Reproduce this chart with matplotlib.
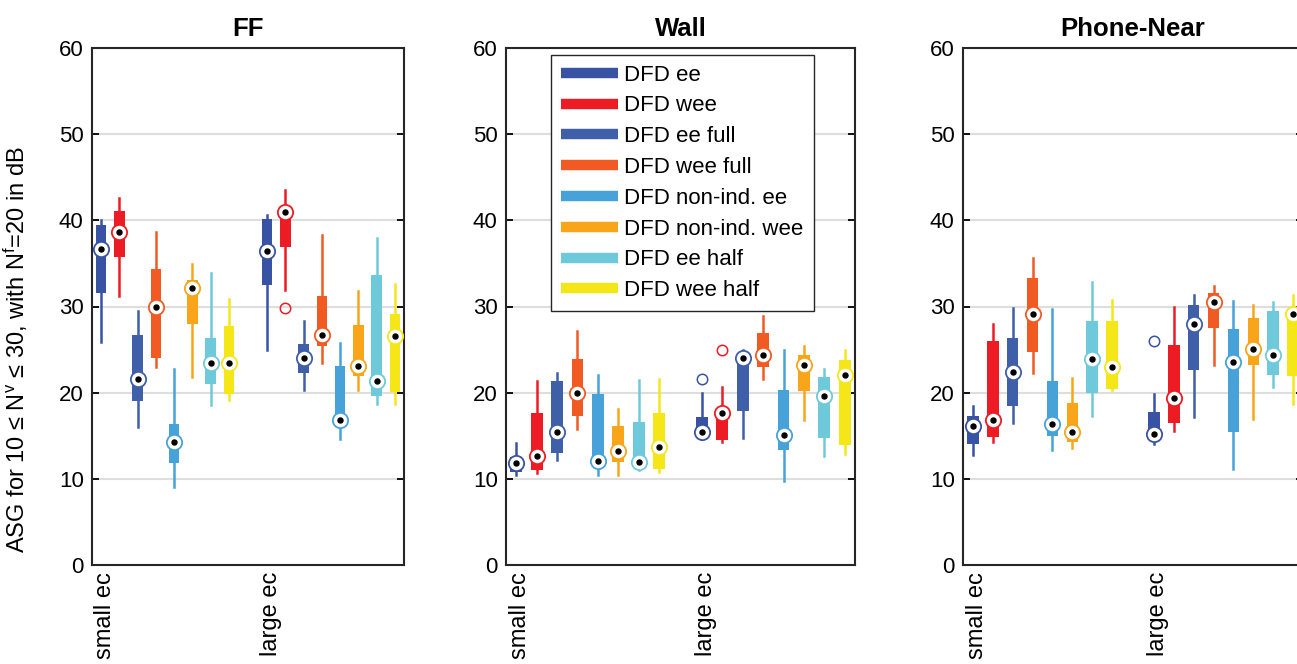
import matplotlib.pyplot as plt
from matplotlib.lines import Line2D

plt.rcParams['font.family'] = ['Liberation Sans', 'DejaVu Sans']
plt.rcParams['mathtext.fontset'] = 'custom'
plt.rcParams['mathtext.rm'] = 'Liberation Sans'
plt.rcParams['mathtext.it'] = 'Liberation Sans:italic'

# series / groups
series = ['DFD ee', 'DFD wee', 'DFD ee full', 'DFD wee full',
          'DFD non-ind. ee', 'DFD non-ind. wee', 'DFD ee half', 'DFD wee half']
colors = ['#3953a4', '#ed1c24', '#3f5fa9', '#f15a22',
          '#47a2d9', '#f9a51a', '#6ecadb', '#f5e717']
groups = ['small ec', 'large ec']
panels = ['FF', 'Wall', 'Phone-Near']

# 16 boxes per panel: first 8 = small ec, last 8 = large ec
ff_med = [36.7, 38.7, 21.6, 29.9, 14.3, 32.1, 23.4, 23.4, 36.4, 41.0, 24.0, 26.7, 16.8, 23.1, 21.4, 26.6]
ff_q1 = [31.6, 35.7, 19.0, 24.0, 11.8, 28.0, 21.0, 19.9, 32.5, 36.9, 22.3, 25.4, 16.6, 21.9, 19.6, 20.1]
ff_q3 = [39.5, 41.1, 26.7, 34.4, 16.4, 33.1, 26.4, 27.7, 40.2, 41.2, 25.6, 31.2, 23.1, 27.8, 33.7, 29.1]
ff_lo = [25.9, 31.2, 16.0, 23.0, 9.0, 21.8, 18.6, 19.2, 24.9, 31.9, 20.3, 23.4, 14.6, 20.3, 18.7, 18.7]
ff_hi = [40.0, 42.6, 29.5, 38.7, 22.7, 34.9, 33.9, 30.9, 40.6, 43.5, 28.3, 38.3, 25.8, 31.8, 38.0, 32.6]
ff_out = {9: [29.8]}

wall_med = [11.8, 12.7, 15.4, 20.0, 12.1, 13.2, 11.9, 13.7, 15.4, 17.6, 24.0, 24.4, 15.1, 23.2, 19.6, 22.0]
wall_q1 = [10.8, 11.0, 13.0, 17.3, 11.4, 12.0, 11.2, 11.1, 15.3, 14.5, 17.9, 23.0, 13.4, 20.2, 14.7, 13.9]
wall_q3 = [12.5, 17.6, 21.4, 23.9, 19.8, 16.1, 16.6, 17.6, 17.2, 17.8, 24.2, 26.9, 20.3, 24.4, 21.8, 23.8]
wall_lo = [10.5, 10.7, 12.2, 15.8, 10.5, 10.4, 11.0, 10.8, 15.2, 14.3, 14.7, 21.6, 9.7, 16.8, 12.7, 12.9]
wall_hi = [14.2, 21.4, 22.3, 27.2, 22.0, 18.1, 21.5, 21.6, 20.0, 20.6, 25.0, 28.9, 25.0, 25.4, 22.8, 25.0]
wall_out = {8: [21.6], 9: [25.0]}

phone_med = [16.1, 16.8, 22.4, 29.1, 16.4, 15.4, 23.9, 23.0, 15.2, 19.4, 28.0, 30.5, 23.6, 25.1, 24.4, 29.1]
phone_q1 = [14.0, 14.9, 18.5, 24.7, 15.0, 14.3, 20.0, 20.4, 15.1, 16.5, 22.6, 27.5, 15.4, 23.2, 22.1, 21.9]
phone_q3 = [17.3, 26.0, 26.3, 33.3, 21.4, 18.8, 28.3, 28.3, 17.7, 25.5, 30.2, 31.6, 27.4, 28.7, 29.5, 29.5]
phone_lo = [12.8, 14.3, 16.5, 22.3, 13.3, 13.6, 17.3, 20.3, 14.1, 15.5, 17.2, 23.2, 11.1, 16.9, 20.7, 18.7]
phone_hi = [18.5, 28.0, 29.8, 35.6, 29.7, 21.7, 32.9, 30.8, 19.9, 30.0, 31.3, 32.4, 30.6, 30.2, 30.5, 31.3]
phone_out = {8: [26.0]}

data = [
    (ff_med, ff_q1, ff_q3, ff_lo, ff_hi, ff_out),
    (wall_med, wall_q1, wall_q3, wall_lo, wall_hi, wall_out),
    (phone_med, phone_q1, phone_q3, phone_lo, phone_hi, phone_out),
]

# box positions: two groups of 8 with a gap
positions = list(range(1, 9)) + [x + 9.1 for x in range(1, 9)]
box_colors = colors + colors

fig = plt.figure(figsize=(12.97, 6.64), dpi=100)
W, H = 1297, 664
# axes rectangles in pixels (left, right), top=48, bottom=565
rects = [(92, 404), (506, 855), (963, 1303)]
top_px, bot_px = 48, 565

for k, (name, (med, q1, q3, lo, hi, out)) in enumerate(zip(panels, data)):
    l, r = rects[k]
    ax = fig.add_axes([l / W, (H - bot_px) / H, (r - l) / W, (bot_px - top_px) / H])

    stats = []
    for i in range(16):
        stats.append(dict(med=med[i], q1=q1[i], q3=q3[i], whislo=lo[i], whishi=hi[i],
                          fliers=out.get(i, [])))
    bp = ax.bxp(stats, positions=positions, widths=0.58, patch_artist=True,
                showcaps=False, manage_ticks=False,
                medianprops=dict(visible=False),
                flierprops=dict(marker='o', markerfacecolor='none', markersize=7.5,
                                markeredgewidth=1.1))
    for i in range(16):
        c = box_colors[i]
        bp['boxes'][i].set_facecolor(c)
        bp['boxes'][i].set_edgecolor(c)
        bp['boxes'][i].set_linewidth(0)
        bp['boxes'][i].set_zorder(3)
        for w in bp['whiskers'][2 * i:2 * i + 2]:
            w.set_color(c)
            w.set_linewidth(1.8)
            w.set_zorder(2.5)
        bp['fliers'][i].set_markeredgecolor(c)
        # median: white circle with coloured rim and black dot
        ax.plot(positions[i], med[i], 'o', markersize=11, markerfacecolor='white',
                markeredgecolor=c, markeredgewidth=1.3, zorder=4)
        ax.plot(positions[i], med[i], 'o', markersize=3.6, color='black', zorder=5)

    ax.set_xlim(0.5, 17.6)
    ax.set_ylim(0, 60)
    ax.set_yticks(range(0, 61, 10))
    ax.yaxis.grid(True, color='#dedede', linewidth=1.5)
    ax.set_axisbelow(True)
    ax.set_xticks([positions[0] + 0.2, positions[8] + 0.2])
    ax.set_xticklabels(groups, rotation=90, va='top', ha='center')
    ax.tick_params(axis='x', length=0, pad=5, labelsize=17)
    ax.tick_params(axis='y', direction='in', length=5, width=1.3, right=True,
                   labelsize=16, pad=6)
    for s in ax.spines.values():
        s.set_linewidth(1.5)
        s.set_color('#262626')
    ax.set_title(name, fontsize=18.5, fontweight='bold', pad=9)

    if k == 0:
        ax.set_ylabel('ASG for 10 ≤ N$^{\\mathrm{v}}$ ≤ 30, with N$^{\\mathrm{f}}$=20 in dB',
                      fontsize=17)
        ax.yaxis.set_label_coords(-0.2, 0.416)
    if k == 1:
        handles = [Line2D([0], [0], color=c, linewidth=7.5, solid_capstyle='butt')
                   for c in colors]
        leg = ax.legend(handles, series, loc='upper left', bbox_to_anchor=(0.129, 0.987),
                        borderaxespad=0, fontsize=16, handlelength=2.55, labelspacing=0.44,
                        fancybox=False, framealpha=1, edgecolor='#262626',
                        handletextpad=0.3, borderpad=0.45)
        leg.get_frame().set_linewidth(1.0)
        leg.set_zorder(10)

plt.savefig('out.png', dpi=100)
